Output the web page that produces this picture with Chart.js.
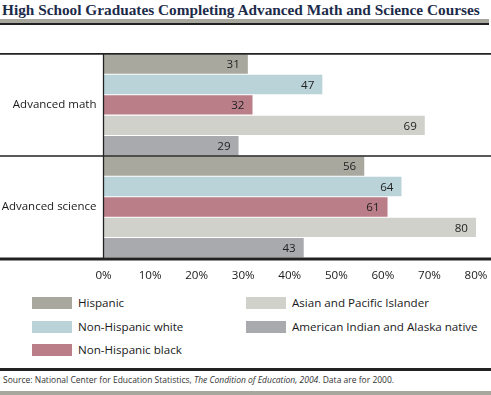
<!DOCTYPE html>
<html>
<head>
<meta charset="utf-8">
<script src="https://cdn.jsdelivr.net/npm/chart.js@4.4.1/dist/chart.umd.min.js"></script>
<style>
  body { margin: 0; background: #fff; font-family: "Open Sans", sans-serif; color: #1a1a1a; }
  #wrap { position: relative; width: 491px; height: 395px; overflow: hidden; }
  #title { position: absolute; left: 2px; top: 2px; font: bold 15.3px/16px "Liberation Serif", serif; color: #1c2b4a; white-space: nowrap; }
  .band { position: absolute; left: 0; width: 489px; background: #a8a79d; }
  .rule { position: absolute; left: 0; width: 491px; background: #222; }
  #chartBox { position: absolute; left: 0; top: 40px; }
  .item { position: absolute; font-size: 11.6px; line-height: 14px; white-space: nowrap; }
  .sw { position: absolute; width: 40px; height: 12px; }
  #source { position: absolute; left: 3px; top: 374px; font-size: 8.5px; color: #333; white-space: nowrap; }
</style>
</head>
<body>
<div id="wrap">
  <div id="title">High School Graduates Completing Advanced Math and Science Courses</div>
  <div class="band" style="top:19px;height:4px"></div>
  <div class="rule" style="top:23px;height:1.5px;width:489px"></div>
  <div id="chartBox"><canvas id="chart" width="491" height="250"></canvas></div>
  <div id="legend"></div>
  <div class="rule" style="top:368px;height:2.5px"></div>
  <div id="source">Source: National Center for Education Statistics, <i>The Condition of Education, 2004</i>. Data are for 2000.</div>
  <div class="band" style="top:391px;height:4px;width:491px"></div>
</div>
<script>
// data
const categories = ['Advanced math', 'Advanced science'];
const groups = ['Hispanic', 'Non-Hispanic white', 'Non-Hispanic black', 'Asian and Pacific Islander', 'American Indian and Alaska native'];
const hispanic = [31, 56];
const nonHispanicWhite = [47, 64];
const nonHispanicBlack = [32, 61];
const asianPacific = [69, 80];
const americanIndian = [29, 43];
const xTicks = [0, 10, 20, 30, 40, 50, 60, 70, 80];

const series = [hispanic, nonHispanicWhite, nonHispanicBlack, asianPacific, americanIndian];
const colors = ['#a9a89e', '#bad3d9', '#ba7e89', '#d1d1cb', '#a9aaae'];
const font = '"Open Sans", sans-serif';

// legend, two columns, filled top to bottom
const legend = document.getElementById('legend');
groups.forEach((g, i) => {
  const col = Math.floor(i / 3), row = i % 3;
  const x = col ? 246 : 32;
  const y = 297 + row * 23.5;
  const sw = document.createElement('div');
  sw.className = 'sw';
  sw.style.cssText = `left:${x}px;top:${y}px;background:${colors[i]}`;
  const t = document.createElement('div');
  t.className = 'item';
  t.style.cssText = `left:${x + 46}px;top:${y - 1}px`;
  t.textContent = g;
  legend.appendChild(sw);
  legend.appendChild(t);
});

const frameLines = {
  id: 'frameLines',
  afterDraw(chart) {
    const { ctx, chartArea: a, scales: { y } } = chart;
    const w = chart.width;
    const hline = (yy, lw) => {
      ctx.lineWidth = lw;
      ctx.beginPath(); ctx.moveTo(0, yy); ctx.lineTo(w, yy); ctx.stroke();
    };
    ctx.save();
    ctx.strokeStyle = '#222';
    hline(a.top, 1.7);
    const mid = (y.getPixelForValue(0) + y.getPixelForValue(1)) / 2;
    hline(mid, 1.5);
    hline(a.bottom + 1, 3);
    ctx.lineWidth = 1.3;
    ctx.beginPath(); ctx.moveTo(a.left, a.top); ctx.lineTo(a.left, a.bottom); ctx.stroke();
    ctx.restore();
  }
};

const valueLabels = {
  id: 'valueLabels',
  afterDatasetsDraw(chart) {
    const { ctx } = chart;
    ctx.save();
    ctx.font = '11.6px ' + font;
    ctx.fillStyle = '#222';
    ctx.textAlign = 'right';
    ctx.textBaseline = 'middle';
    chart.data.datasets.forEach((ds, i) => {
      chart.getDatasetMeta(i).data.forEach((bar, j) => {
        ctx.fillText(ds.data[j], bar.x - 8, bar.y + 1);
      });
    });
    ctx.restore();
  }
};

new Chart(document.getElementById('chart'), {
  type: 'bar',
  data: {
    labels: categories,
    datasets: groups.map((g, i) => ({
      label: g,
      data: series[i],
      backgroundColor: colors[i],
      categoryPercentage: 1,
      barPercentage: 0.95
    }))
  },
  options: {
    indexAxis: 'y',
    responsive: false,
    animation: false,
    layout: { padding: { top: 10, right: 15, left: 0, bottom: 0 } },
    plugins: { legend: { display: false }, tooltip: { enabled: false } },
    scales: {
      x: {
        min: 0, max: 80,
        afterFit: s => { s.height = 32; s.paddingLeft = 0; s.paddingRight = 0; },
        afterBuildTicks: s => { s.ticks = xTicks.map(v => ({ value: v })); },
        grid: { display: false, drawTicks: false },
        border: { display: false },
        ticks: { callback: v => v + '%', color: '#1a1a1a', padding: 11, maxRotation: 0,
                 font: { family: font, size: 11.6 } }
      },
      y: {
        afterFit: s => { s.width = 103.5; },
        grid: { display: false, drawTicks: false },
        border: { display: false },
        ticks: { color: '#1a1a1a', padding: 7,
                 font: { family: font, size: 11.5 } }
      }
    }
  },
  plugins: [frameLines, valueLabels]
});
</script>
</body>
</html>
